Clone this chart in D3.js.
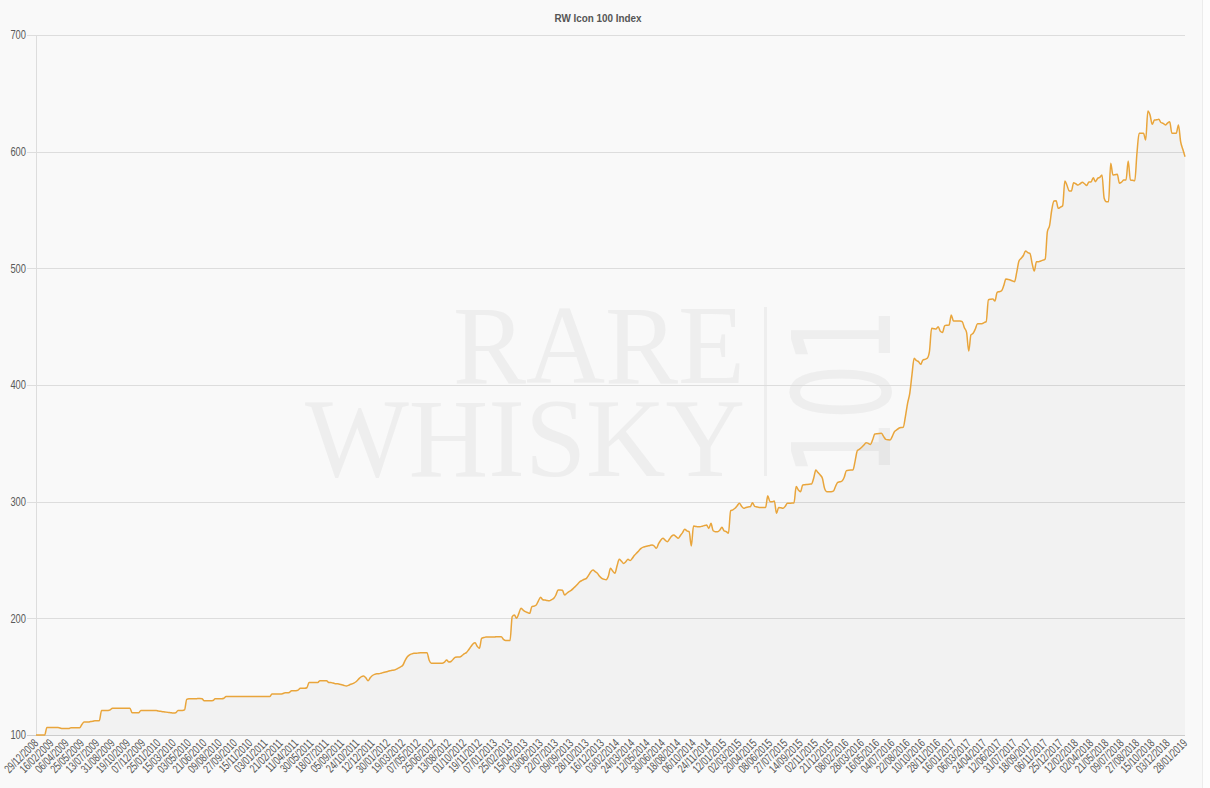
<!DOCTYPE html>
<html>
<head>
<meta charset="utf-8">
<script src="https://cdn.jsdelivr.net/npm/d3@7/dist/d3.min.js"></script>
<style>
  html, body { margin: 0; padding: 0; background: #f9f9f9; }
  svg { display: block; }
  .lbl { font-family: "Liberation Sans", Arial, sans-serif; }
</style>
</head>
<body>
<svg id="chart" width="1210" height="788"></svg>
<script>
const title = "RW Icon 100 Index";

// Weekly index values, 29/12/2008 .. 28/01/2019
const values = [
  100,100,100,100,100,106.5,106.5,106.5,106.5,106.5,
  106.5,106,105.5,105.5,105.5,105.5,106.3,106.3,106.3,106.3,
  106.3,109,111.2,111.2,111.2,111.5,111.8,112.3,112.3,112.3,
  121,121,121,121,121.5,123,123,123,123,123,
  123,123,123,123,119,119,119,119,121,121,
  121,121,121,121,121,121,120.5,120.3,120,119.8,
  119.5,119.2,119,118.8,119,121,121,121,121.5,130.5,
  131,131,131,131,131.2,131.2,131,129.4,129.4,129.4,
  129.4,129.6,131,131,131,131,131.5,133,133,133,
  133,133,133,133,133,133,133,133,133,133,
  133,133,133,133,133,133,133,133,135.1,135.1,
  135.1,135.1,135.1,135.5,136.2,136.2,136.5,138,138,138,
  138.5,140,140,140,140.5,145,145,145,145,145,
  146.6,146.6,146.6,146.6,145,145,144.5,144,144,143.5,
  143,142.5,142,142.5,143.5,144,145,146.5,148.5,150,
  150.5,149,146.5,149,151,152,152.5,152.5,153,153.5,
  154,154.5,155,155.5,155.7,156.5,157.5,158.5,160,164,
  167,168.6,169.5,170,170,170.3,170.5,170.6,170.6,170.6,
  164,161.4,161.4,161.4,161.4,161.4,161.4,162.5,164.3,162.5,
  163,165,166.6,166.8,166.9,168,169.5,170.6,172.9,175.5,
  178,179.1,176,174.3,182.9,183.5,184,184,184,184,
  184,184.3,184.3,184.3,182,180.9,180.9,180.9,201.4,202.9,
  200,204,208.6,207,205.7,205,204.3,210,210.5,211.4,
  215,218,216,215.7,215.3,215.1,216,217.1,220,224.3,
  224.3,224,220,221.5,222.9,224,225.7,227.5,229.5,231.4,
  232.5,233.5,234.3,237,240,241.4,240,238.6,236,234.3,
  233.5,233,236,242.9,240.5,238.6,245,250.6,249,247.1,
  248.5,250.6,249.5,251.5,254,256,258,260,261,261.5,
  262,262.5,262.9,262,260,264,267,268.6,267,265.7,
  268,270.5,271.4,270,268.6,271,273.5,276.3,275,274.3,
  262,279.1,278.8,278.5,278.5,279,279.5,280,277.1,281.4,
  275.1,274.3,274.3,275.5,278,275,274.3,272.9,292.3,293,
  294.3,296.5,298.6,296,294.3,295,295.5,295.7,299.1,296,
  295.5,295.1,295.1,295.1,295.1,305.1,300,300,300.5,290,
  295.1,294.8,294.3,296,298.6,298.6,298.8,298.9,312.9,310,
  308.6,314.3,314.5,314.8,315,315.1,320,327.1,324.9,322.9,
  320,311.4,308.6,308.6,308.6,309,313,316.5,317,317.7,
  321,326.6,327,327.1,327.1,335,343.7,345,346.6,348.5,
  350.6,350,349,353,358,358.3,358.5,358.6,356,353.4,
  353,352.9,356,360,361.5,362.9,363.5,363.7,372.9,384.3,
  392.9,408.6,422.9,421,420,417.7,421.4,422,422.9,428.6,
  448.6,448.3,448,450,446,445.1,450.9,451.2,451.4,460,
  454.9,454.9,454.9,454.9,454.3,449.1,445.1,429.1,442.9,444.3,
  448,452.6,452.6,452.6,453.5,454.3,472.9,473.5,473.7,472,
  479.4,480,480.6,485,490.9,490.5,490,489.2,488.6,497,
  506.3,508.6,511,514.9,513.5,512.9,504.3,497.7,505.7,505.7,
  506.3,507,508,531.4,536.6,550,557.7,558,551.4,552.5,
  553.7,574.9,571,566.3,566.3,573.4,572.5,571.4,572.5,573.7,
  572.5,571,574,574,577.7,574.3,577.1,578,580,560,
  557,557,590,580,580.3,580.6,572.9,574,575.7,575.7,
  592,575.7,575.5,575,598.6,615.7,615.7,615.7,610,634.9,
  631.4,623.4,627.1,627.3,627.7,625,624.3,622.9,624.5,625.7,
  615.7,615.7,615.7,622.9,608.6,602,595.7
];

// Shown x tick labels (every 7th week, plus the last point)
const tickLabels = [
  "29/12/2008","16/02/2009","06/04/2009","25/05/2009","13/07/2009","31/08/2009","19/10/2009","07/12/2009",
  "25/01/2010","15/03/2010","03/05/2010","21/06/2010","09/08/2010","27/09/2010","15/11/2010",
  "03/01/2011","21/02/2011","11/04/2011","30/05/2011","18/07/2011","05/09/2011","24/10/2011","12/12/2011",
  "30/01/2012","19/03/2012","07/05/2012","25/06/2012","13/08/2012","01/10/2012","19/11/2012",
  "07/01/2013","25/02/2013","15/04/2013","03/06/2013","22/07/2013","09/09/2013","28/10/2013","16/12/2013",
  "03/02/2014","24/03/2014","12/05/2014","30/06/2014","18/08/2014","06/10/2014","24/11/2014",
  "12/01/2015","02/03/2015","20/04/2015","08/06/2015","27/07/2015","14/09/2015","02/11/2015","21/12/2015",
  "08/02/2016","28/03/2016","16/05/2016","04/07/2016","22/08/2016","10/10/2016","28/11/2016",
  "16/01/2017","06/03/2017","24/04/2017","12/06/2017","31/07/2017","18/09/2017","06/11/2017","25/12/2017",
  "12/02/2018","02/04/2018","21/05/2018","09/07/2018","27/08/2018","15/10/2018","03/12/2018",
  "28/01/2019"
];
const tickStep = 7;
const yTicks = [100, 200, 300, 400, 500, 600, 700];

const svg = d3.select("#chart");
const W = 1210, H = 788;
const plot = { left: 36, right: 1185, top: 35, bottom: 735 };

svg.append("rect").attr("width", W).attr("height", H).attr("fill", "#f9f9f9");
svg.append("rect").attr("x", 1202).attr("y", 0).attr("width", 8).attr("height", H).attr("fill", "#fdfdfd");
svg.append("line").attr("x1", 1202.5).attr("x2", 1202.5).attr("y1", 0).attr("y2", H).attr("stroke", "#ececec");

const x = d3.scaleLinear().domain([0, values.length - 1]).range([plot.left, plot.right]);
const y = d3.scaleLinear().domain([100, 700]).range([plot.bottom, plot.top]);

// Watermark
const wm = svg.append("g").attr("fill", "#eeeeee");
wm.append("text").attr("x", 745).attr("y", 383).attr("text-anchor", "end")
  .attr("font-family", "Liberation Serif, 'DejaVu Serif', serif").attr("font-size", 112)
  .attr("textLength", 292).attr("lengthAdjust", "spacingAndGlyphs").text("RARE");
wm.append("text").attr("x", 745).attr("y", 476).attr("text-anchor", "end")
  .attr("font-family", "Liberation Serif, 'DejaVu Serif', serif").attr("font-size", 112)
  .attr("textLength", 440).attr("lengthAdjust", "spacingAndGlyphs").text("WHISKY");
wm.append("rect").attr("x", 764).attr("y", 307).attr("width", 3).attr("height", 169);
wm.append("text")
  .attr("transform", "translate(890,392) rotate(-90)")
  .attr("text-anchor", "middle")
  .attr("font-family", "'DejaVu Sans', sans-serif").attr("font-size", 136)
  .attr("textLength", 168).attr("lengthAdjust", "spacingAndGlyphs")
  .text("101");

// Grid
const grid = svg.append("g");
grid.selectAll("line.h").data(yTicks).join("line")
  .attr("x1", plot.left - 9).attr("x2", plot.right)
  .attr("y1", d => Math.round(y(d)) + 0.5).attr("y2", d => Math.round(y(d)) + 0.5)
  .attr("stroke", d => d === 100 ? "#cccccc" : "#dddddd").attr("stroke-width", 1);
grid.append("line").attr("x1", plot.left + 0.5).attr("x2", plot.left + 0.5)
  .attr("y1", plot.top).attr("y2", plot.bottom).attr("stroke", "#dddddd");

// Y labels (condensed)
svg.append("g").selectAll("text").data(yTicks).join("text")
  .attr("class", "lbl")
  .attr("transform", d => `translate(26,${y(d)}) scale(0.78,1)`).attr("dy", "0.35em")
  .attr("text-anchor", "end").attr("font-size", 12).attr("fill", "#5a5a5a")
  .text(d => d);

// Area + line
const curve = d3.curveMonotoneX;
const area = d3.area().x((d, i) => x(i)).y0(y(100)).y1(d => y(d)).curve(curve);
const line = d3.line().x((d, i) => x(i)).y(d => y(d)).curve(curve);
svg.append("path").datum(values).attr("d", area).attr("fill", "rgba(0,0,0,0.028)");
svg.append("path").datum(values).attr("d", line).attr("fill", "none")
  .attr("stroke", "#e9a53b").attr("stroke-width", 1.5).attr("stroke-linejoin", "round");

// X labels (condensed, rotated)
const tickIdx = tickLabels.map((t, k) => k === tickLabels.length - 1 ? values.length - 1 : k * tickStep);
svg.append("g").selectAll("text").data(tickLabels).join("text")
  .attr("class", "lbl")
  .attr("transform", (d, k) => `translate(${x(tickIdx[k]) + 3},${plot.bottom + 9}) rotate(-45) scale(0.7,1)`)
  .attr("text-anchor", "end").attr("font-size", 12).attr("fill", "#555")
  .text(d => d);

// Title
svg.append("text").attr("class", "lbl")
  .attr("transform", "translate(598,22) scale(0.86,1)").attr("text-anchor", "middle")
  .attr("font-size", 11.5).attr("font-weight", "bold").attr("fill", "#555")
  .text(title);
</script>
</body>
</html>
